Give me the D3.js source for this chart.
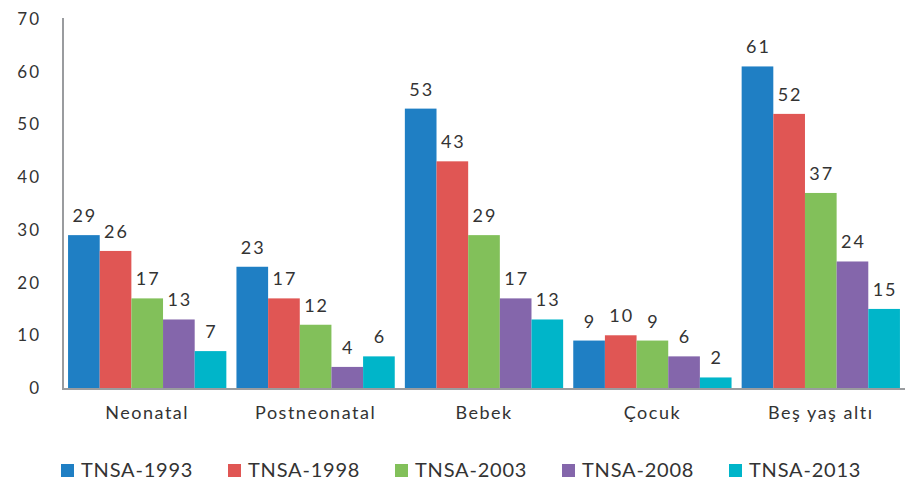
<!DOCTYPE html>
<html>
<head>
<meta charset="utf-8">
<script src="https://cdn.jsdelivr.net/npm/d3@7"></script>
<style>
	body { margin: 0; background: #fff; }
	svg text { font-family: Lato, "Open Sans", sans-serif; fill: #333; }
</style>
</head>
<body>
<svg id="chart" width="914" height="483"></svg>
<script>

// Data

var categories = ['Neonatal', 'Postneonatal', 'Bebek', 'Çocuk', 'Beş yaş altı'],
	seriesNames = ['TNSA-1993', 'TNSA-1998', 'TNSA-2003', 'TNSA-2008', 'TNSA-2013'],
	tnsa1993 = [29, 23, 53, 9, 61],
	tnsa1998 = [26, 17, 43, 10, 52],
	tnsa2003 = [17, 12, 29, 9, 37],
	tnsa2008 = [13, 4, 17, 6, 24],
	tnsa2013 = [7, 6, 13, 2, 15],
	yTicks = [0, 10, 20, 30, 40, 50, 60, 70],
	colors = ['#1f7fc4', '#e05654', '#82c05a', '#8466ab', '#00b5c9'];

var seriesValues = [tnsa1993, tnsa1998, tnsa2003, tnsa2008, tnsa2013];

// Scales

var plotLeft = 63, plotRight = 905, plotTop = 19, plotBottom = 388;

var x0 = d3.scaleBand()
		.domain(categories)
		.range([plotLeft, plotRight])
		.paddingInner(0.06)
		.paddingOuter(0.03),
	x1 = d3.scaleBand()
		.domain(seriesNames)
		.range([0, x0.bandwidth()]),
	y = d3.scaleLinear()
		.domain([0, 70])
		.range([plotBottom, plotTop]);

var svg = d3.select('#chart');

// Bars

var groups = svg.selectAll('g.cat')
	.data(categories)
	.enter()
	.append('g')
	.attr('class', 'cat')
	.attr('transform', function(d) {return 'translate(' + x0(d) + ',0)';});

function rows(d, i) {
	return seriesNames.map(function(s, j) {return {s: s, j: j, v: seriesValues[j][i]};});
}

groups.selectAll('rect')
	.data(rows)
	.enter()
	.append('rect')
	.attr('x', function(d) {return x1(d.s);})
	.attr('y', function(d) {return y(d.v);})
	.attr('width', x1.bandwidth())
	.attr('height', function(d) {return y(0) - y(d.v);})
	.style('fill', function(d) {return colors[d.j];});

groups.selectAll('text.val')
	.data(rows)
	.enter()
	.append('text')
	.attr('class', 'val')
	.attr('x', function(d) {return x1(d.s) + x1.bandwidth() / 2 + 1;})
	.attr('y', function(d) {return y(d.v) - 13;})
	.attr('text-anchor', 'middle')
	.style('font-size', '18px')
	.style('letter-spacing', '2px')
	.text(function(d) {return d.v;});

// Axes

var yAxis = svg.append('g')
	.attr('transform', 'translate(' + plotLeft + ',0)')
	.call(d3.axisLeft(y).tickValues(yTicks).tickSize(0).tickPadding(22));

yAxis.select('.domain').remove();
yAxis.selectAll('text')
	.style('font-size', '17px')
	.style('letter-spacing', '2px');

svg.append('line')
	.attr('x1', plotLeft).attr('x2', plotLeft)
	.attr('y1', plotTop - 1).attr('y2', plotBottom + 1)
	.style('stroke', '#9a9c9f')
	.style('stroke-width', 2);

svg.append('line')
	.attr('x1', plotLeft - 1).attr('x2', plotRight)
	.attr('y1', plotBottom + 1).attr('y2', plotBottom + 1)
	.style('stroke', '#9a9c9f')
	.style('stroke-width', 2);

var xAxis = svg.append('g')
	.attr('transform', 'translate(0,' + plotBottom + ')')
	.call(d3.axisBottom(x0).tickSize(0).tickPadding(18));

xAxis.select('.domain').remove();
xAxis.selectAll('text')
	.style('font-size', '18px')
	.style('letter-spacing', '1.5px');

// Legend

var legend = svg.selectAll('g.legend')
	.data(seriesNames)
	.enter()
	.append('g')
	.attr('class', 'legend')
	.attr('transform', function(d, i) {return 'translate(' + (61 + i * 167) + ',464)';});

legend.append('rect')
	.attr('width', 13)
	.attr('height', 13)
	.style('fill', function(d, i) {return colors[i];});

legend.append('text')
	.attr('x', 20)
	.attr('y', 13)
	.style('font-size', '20px')
	.style('letter-spacing', '0.8px')
	.text(function(d) {return d;});

</script>
</body>
</html>
